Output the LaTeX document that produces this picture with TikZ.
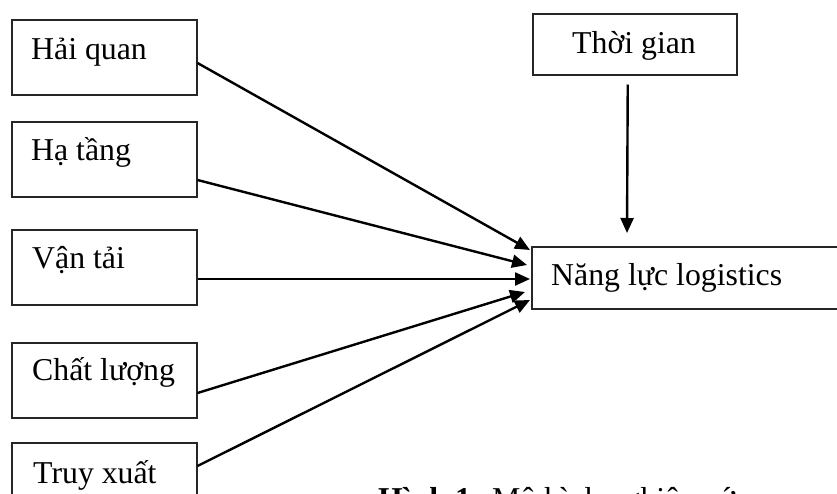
\documentclass[tikz,border=0pt]{standalone}
\usepackage{fontspec}
\setmainfont{Liberation Serif}
\usetikzlibrary{arrows.meta,calc}
\begin{document}
\begin{tikzpicture}[x=1pt,y=-1pt,
  box/.style={draw=black!85, line width=1.5pt, minimum width=185pt, minimum height=75pt, anchor=north west, inner sep=0pt},
  lbl/.style={anchor=base west, inner sep=0pt, font=\fontsize{31.8}{38}\selectfont},
  arr/.style={line width=2.4pt, -{Triangle[length=15pt,width=13pt]}}]
\useasboundingbox (0,0) rectangle (837,493);
\clip (0,0) rectangle (837,493);
% left boxes
\node[box] (b1) at (11,19) {};
\node[box] (b2) at (11,121) {};
\node[box] (b3) at (11,229) {};
\node[box] (b4) at (11,342) {};
\node[box] (b5) at (11,442) {};
% right boxes
\node[box, minimum width=204pt, minimum height=61pt] (tg) at (532,13) {};
\node[box, minimum width=330pt, minimum height=62pt] (nl) at (531,246) {};
% texts
\node[lbl] at (31,59) {Hải quan};
\node[lbl] at (31,160) {Hạ tầng};
\node[lbl] at (32,268) {Vận tải};
\node[lbl] at (32,380) {Chất lượng};
\node[lbl] at (33,483) {Truy xuất};
\node[lbl, anchor=base] at (634,53) {Thời gian};
\node[lbl] at (551,285) {Năng lực logistics};
% connectors
\draw[arr] ($(b1.north east)+(0,44)$) -- ($(nl.north west)+(-1,4)$);
\draw[arr] ($(b2.north east)+(0,59)$) -- ($(nl.north west)+(-4,19)$);
\draw[arr] ($(b3.north east)+(0,50)$) -- ($(nl.north west)+(-1,33)$);
\draw[arr] ($(b4.north east)+(0,51)$) -- ($(nl.north west)+(-6,46)$);
\draw[arr] ($(b5.north east)+(0,24)$) -- ($(nl.north west)+(-1,54)$);
\draw[arr] ($(tg.south)+(-7,9)$) -- ($(nl.north west)+(96,-13)$);
% caption (cut off at the bottom edge, as in the reference)
\node[lbl] at (378,509) {\textbf{Hình 1:} Mô hình nghiên cứu};
\end{tikzpicture}
\end{document}
